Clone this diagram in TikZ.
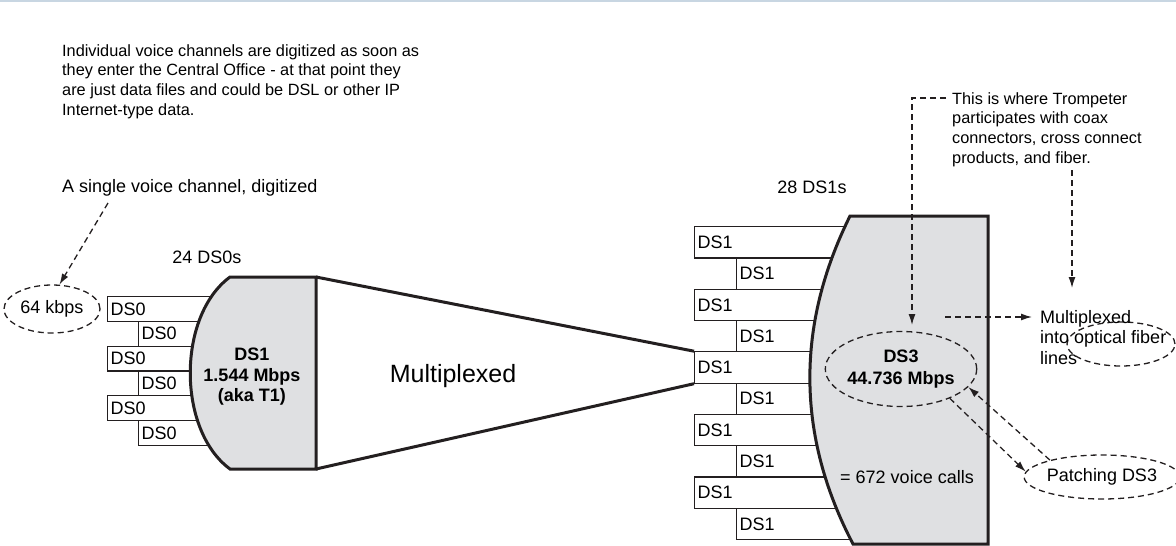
\documentclass[tikz,border=0pt]{standalone}
\usepackage{fontspec}
\setmainfont{Liberation Sans}
\usetikzlibrary{arrows.meta,shapes.geometric}
\definecolor{blockgray}{RGB}{223,224,226}
\definecolor{ink}{RGB}{35,31,32}
\definecolor{edgeblue}{RGB}{200,214,226}
\tikzset{
  chanbox/.style={draw=ink, line width=1.2pt, fill=white, anchor=north west,
    inner xsep=3pt, inner ysep=0pt, align=left, font=\fontsize{18}{20}\selectfont},
  block/.style={draw=ink, line width=3pt, fill=blockgray, line join=miter},
  fan/.style={draw=ink, line width=3pt},
  dashline/.style={draw=ink, line width=1.3pt, dash pattern=on 6pt off 4pt},
  ring/.style={ellipse, draw=ink, line width=1.3pt, dash pattern=on 6pt off 4pt,
    inner sep=0pt, font=\fontsize{18}{20}\selectfont},
  tag/.style={inner sep=0pt, font=\fontsize{18}{20.5}\selectfont, align=center},
  note/.style={inner sep=0pt, font=\fontsize{16.3}{19.7}\selectfont, align=left, anchor=north west}
}
\begin{document}
\begin{tikzpicture}[x=1pt, y=-1pt, >={Latex[length=11pt,width=7pt]}]
    \useasboundingbox (0,0) rectangle (1176,546);
    \draw[edgeblue, line width=1.5pt] (0,0.75) -- (1176,0.75);
    % channels entering each multiplexer
    \foreach \i/\bx in {0/107,1/138,2/107,3/138,4/107,5/138}
        \node[chanbox, minimum height=24.8pt, text width=127pt] (zero\i) at (\bx,296+24.8*\i) {DS0};
    \foreach \i/\bx in {0/694,1/736,2/694,3/736,4/694,5/736,6/694,7/736,8/694,9/736}
        \node[chanbox, minimum height=31.3pt, text width=170pt] (one\i) at (\bx,226+31.3*\i) {DS1};
    % the two multiplexers
    \coordinate (Ta) at (230,277); \coordinate (Tb) at (316,277);
    \coordinate (Tc) at (316,469); \coordinate (Td) at (230,469);
    \filldraw[block] (Ta) -- (Tb) -- (Tc) -- (Td) .. controls (177,430) and (177,316) .. cycle;
    \coordinate (Ma) at (850,216); \coordinate (Mb) at (988,216);
    \coordinate (Mc) at (988,544); \coordinate (Md) at (853,544);
    \filldraw[block] (Ma) -- (Mb) -- (Mc) -- (Md) .. controls (796,435) and (796,325) .. cycle;
    \draw[fan] (Tb) -- (one4.north west); \draw[fan] (Tc) -- (one4.south west);
    % labels
    \node[tag, font=\bfseries\fontsize{18}{20.5}\selectfont] (t1txt) at (252,377) {DS1\\1.544 Mbps\\(aka T1)};
    \node[tag, font=\fontsize{25}{28}\selectfont] (mux) at (453,376) {Multiplexed};
    \node[tag] (zerocount) at (207,257) {24 DS0s};
    \node[tag] (onecount) at (812,187) {28 DS1s};
    \node[tag] (calls) at (907,477) {= 672 voice calls};
    \node[ring, minimum width=96pt, minimum height=48pt] (kbps) at (52,309) {64 kbps};
    \node[ring, minimum width=147pt, minimum height=75pt, align=center,
        font=\bfseries\fontsize{18}{22}\selectfont] (ds3) at (901,369) {DS3\\44.736 Mbps};
    \node[ring, minimum width=141pt, minimum height=44pt] (patch) at (1102,477) {Patching DS3};
    \node[ring, minimum width=108pt, minimum height=44pt] (fiberring) at (1121,344) {};
    \node[note, font=\fontsize{18}{20.5}\selectfont] (fibertxt) at (1040,310) {Multiplexed\\into optical fiber\\lines};
    \node[note, anchor=west, font=\fontsize{18}{20}\selectfont] (single) at (62,188) {A single voice channel, digitized};
    \node[note] (digi) at (62,44) {Individual voice channels are digitized as soon as\\they enter the Central Office - at that point they\\are just data files and could be DSL or other IP\\Internet-type data.};
    \node[note] (tromp) at (952,92) {This is where Trompeter\\participates with coax\\connectors, cross connect\\products, and fiber.};
    % callouts
    \coordinate (singletail) at (108,203);
    \draw[dashline,->] (singletail) -- (kbps.73);
    \coordinate (trompA) at (946,98); \coordinate (ds3tip) at (912,325);
    \draw[dashline,->] (trompA) -| (ds3tip);
    \coordinate (trompB) at (1072,170); \coordinate (fibertip) at (1072,288);
    \draw[dashline,->] (trompB) -- (fibertip);
    \coordinate (muxtail) at (945,317);
    \draw[dashline,->] (muxtail) -- ([xshift=-8pt]fibertxt.west |- muxtail);
    \draw[dashline,->] (patch.162) -- (ds3.-15);
    \draw[dashline,->] (ds3.-31) -- (patch.176);
\end{tikzpicture}
\end{document}
